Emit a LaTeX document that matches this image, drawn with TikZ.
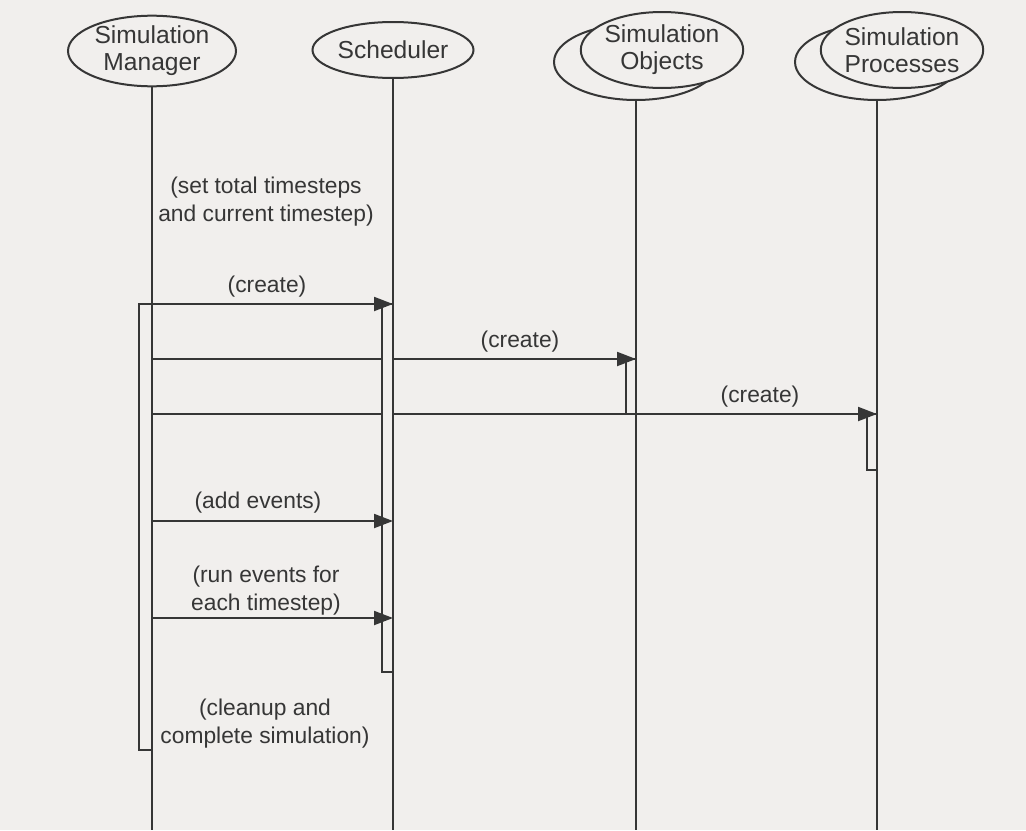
\documentclass[tikz,border=0pt]{standalone}
\usepackage{fontspec}
\setmainfont{Liberation Sans}
\usetikzlibrary{arrows.meta,shapes.geometric}
\definecolor{paper}{HTML}{F1EFED}
\definecolor{ink}{HTML}{363636}

\begin{document}
\begin{tikzpicture}[x=0.5pt,y=-0.5pt,line width=1pt,
  actor/.style={ellipse,draw=ink,fill=paper,line width=1pt,inner sep=0pt,
    align=center,text=ink,font=\fontsize{12.3}{13.5}\selectfont},
  lifeline/.style={draw=ink,line width=1pt},
  actbar/.style={rectangle,draw=ink,fill=paper,line width=1pt,inner sep=0pt,
    outer sep=0pt,anchor=north east},
  msg/.style={draw=ink,line width=1pt,-{Triangle[length=9.5pt,width=7pt]}},
  msglabel/.style={align=center,text=ink,inner sep=0pt,
    font=\fontsize{11.4}{14}\selectfont}]

% page
\fill[paper] (0,0) rectangle (1026,830);
\useasboundingbox (0,0) rectangle (1026,830);
\coordinate (bottom) at (0,830);

% participants
\node[actor,minimum width=84pt,minimum height=29pt] (sm) at (152,51)
  {Simulation\\Manager};
\node[actor,minimum width=80.5pt,minimum height=28pt] (sched) at (393,50)
  {Scheduler};
\node[actor,minimum width=82pt,minimum height=38pt] (objback) at (636,62) {};
\node[actor,minimum width=80pt,minimum height=38pt] (obj) at (662,50)
  {Simulation\\Objects};
\node[actor,minimum width=82pt,minimum height=38pt] (procback) at (877,62) {};
\node[actor,minimum width=80pt,minimum height=38pt] (proc) at (902,50)
  {Simulation\\Processes};

% lifelines
\draw[lifeline] (sm.south) -- (sm.south |- bottom);
\draw[lifeline] (sched.south) -- (sched.south |- bottom);
\draw[lifeline] (objback.south) -- (objback.south |- bottom);
\draw[lifeline] (procback.south) -- (procback.south |- bottom);

% activations of the created participants
\node[actbar,minimum width=5pt,minimum height=27.5pt] (objbar) at (636,359) {};
\node[actbar,minimum width=5pt,minimum height=28pt] (procbar) at (877,414) {};

% message start points on the manager lifeline
\coordinate (m2s) at (152,359);
\coordinate (m3s) at (152,414);
\coordinate (m4s) at (152,521);
\coordinate (m5s) at (152,618);

% creation messages that pass the scheduler
\draw[msg] (m2s) -- (objbar.north east);
\draw[msg] (m3s) -- (procbar.north east);

% activations of manager and scheduler
\node[actbar,minimum width=6.5pt,minimum height=223pt] (smbar) at (152,304) {};
\node[actbar,minimum width=5.5pt,minimum height=184pt] (schedbar) at (393,304) {};

% messages to the scheduler
\draw[msg] (smbar.north west) -- (schedbar.north east);
\draw[msg] (m4s) -- (schedbar.east |- m4s);
\draw[msg] (m5s) -- (schedbar.east |- m5s);

% labels
\node[msglabel] (l0) at (266,202) {(set total timesteps\\and current timestep)};
\node[msglabel] (l1) at (267,287) {(create)};
\node[msglabel] (l2) at (520,342) {(create)};
\node[msglabel] (l3) at (760,397) {(create)};
\node[msglabel] (l4) at (258,503) {(add events)};
\node[msglabel] (l5) at (266,591) {(run events for\\each timestep)};
\node[msglabel] (l6) at (265,724) {(cleanup and\\complete simulation)};
\end{tikzpicture}
\end{document}
